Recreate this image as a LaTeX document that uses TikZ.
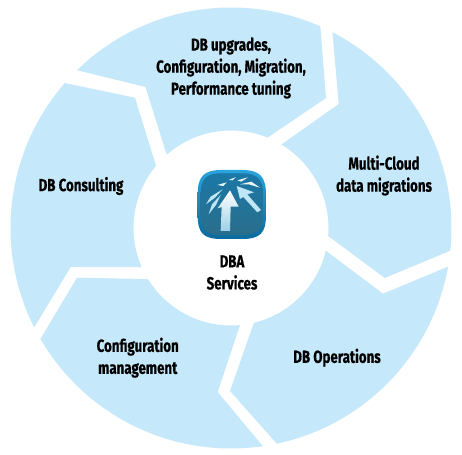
\documentclass[tikz,border=0pt]{standalone}
\usepackage{fontspec}
\usetikzlibrary{calc}
\setmainfont[FakeStretch=0.76,BoldFeatures={FakeBold=0.5}]{Fira Sans}
\tikzset{
    ringpart/.style={fill=ringblue, draw=none},
    ringlabel/.style={font=\fontsize{17.5}{22}\selectfont\bfseries, align=center, text=black},
    logowhite/.style={fill=white, fill opacity=0.92, draw=none},
    logopale/.style={fill=logolight, draw=none}
}
\definecolor{ringblue}{HTML}{C5E8FA}
\definecolor{logodark}{HTML}{2A6E8C}
\definecolor{logomid}{HTML}{1A78A6}
\definecolor{logorim}{HTML}{2BA3DC}
\definecolor{logodeep}{HTML}{0C6A9E}
\definecolor{logolight}{HTML}{BFE6F6}
\begin{document}
\begin{tikzpicture}[x=1pt, y=1pt]
    \useasboundingbox (0,0) rectangle (462,454);
    \coordinate (c) at (231,226);
    % five ring parts, outer arc first
    \fill[ringpart] ($(c)+(134.3:220.5)$) arc[start angle=134.3, end angle=66.1, radius=220.5]
        -- (326,356) -- ($(c)+(68:97.5)$) arc[start angle=68, end angle=131.3, radius=97.5]
        -- (145.5,367) -- cycle;
    \fill[ringpart] ($(c)+(62.6:220.5)$) arc[start angle=62.6, end angle=-5.9, radius=220.5]
        -- (384.7,176) -- ($(c)+(-4.7:97.5)$) arc[start angle=-4.7, end angle=58.9, radius=97.5]
        -- (338.7,350) -- cycle;
    \fill[ringpart] ($(c)+(-10.1:220.5)$) arc[start angle=-10.1, end angle=-78, radius=220.5]
        -- (230,63) -- ($(c)+(-76.4:97.5)$) arc[start angle=-76.4, end angle=-13.5, radius=97.5]
        -- (383,160.3) -- cycle;
    \fill[ringpart] ($(c)+(-81.7:220.5)$) arc[start angle=-81.7, end angle=-149.8, radius=220.5]
        -- (77,176.3) -- ($(c)+(-148.4:97.5)$) arc[start angle=-148.4, end angle=-84.7, radius=97.5]
        -- (217.7,62) -- cycle;
    \fill[ringpart] ($(c)+(-153.2:220.5)$) arc[start angle=-153.2, end angle=-221.1, radius=220.5]
        -- (135,356.3) -- ($(c)+(-219.7:97.5)$) arc[start angle=-219.7, end angle=-156.4, radius=97.5]
        -- (70.7,187) -- cycle;
    % logo, in its own small grid
    \begin{scope}[shift={(180,299)}, x=0.3333pt, y=-0.3333pt]
        \shade[top color=logorim, bottom color=logodeep] (53,120) .. controls (53,65) and (70,45) .. (125,45)
            -- (185,45) .. controls (240,45) and (258,65) .. (258,120)
            -- (258,180) .. controls (258,235) and (240,252) .. (185,252)
            -- (125,252) .. controls (70,252) and (53,235) .. (53,180) -- cycle;
        \shade[top color=logomid, bottom color=logodark] (62,120) .. controls (62,72) and (78,55) .. (125,55)
            -- (185,55) .. controls (232,55) and (249,72) .. (249,120)
            -- (249,178) .. controls (249,224) and (232,240) .. (185,240)
            -- (125,240) .. controls (78,240) and (62,224) .. (62,178) -- cycle;
        \shade[top color=white, bottom color=logolight!80!logomid] (122,228) -- (150,228) -- (152,155) -- (176,155) -- (150,106) -- (113,160) -- (125,156) -- cycle;
        \fill[logopale] (170,93) -- (222,112) -- (202,118) -- (243,165) -- (232,172) -- (190,126) -- (180,132) -- cycle;
        \fill[logopale] (78,148) -- (92,125) -- (128,103) -- (105,128) -- cycle;
        \fill[logopale] (86,178) -- (96,148) -- (122,120) -- (108,150) -- (100,160) -- cycle;
        \fill[logowhite] (112,90) -- (140,82) -- (130,93) -- cycle;
        \fill[logowhite] (146,75) -- (168,66) -- (158,76) -- cycle;
        \fill[logowhite] (172,76) -- (204,67) -- (184,80) -- cycle;
        \fill[logowhite] (180,88) -- (214,80) -- (240,98) -- (206,88) -- cycle;
    \end{scope}
    % labels
    \node[ringlabel] (upgrades) at (231,386) {DB upgrades,\\Configuration, Migration,\\Performance tuning};
    \node[ringlabel] (cloud) at (384,278.5) {Multi-Cloud\\data migrations};
    \node[ringlabel] (operations) at (337,96.3) {DB Operations};
    \node[ringlabel] (configmgmt) at (137.7,96.3) {Configuration\\management};
    \node[ringlabel] (consulting) at (81,268) {DB Consulting};
    \node[ringlabel] (dba) at (232,181.5) {DBA\\Services};
\end{tikzpicture}
\end{document}
